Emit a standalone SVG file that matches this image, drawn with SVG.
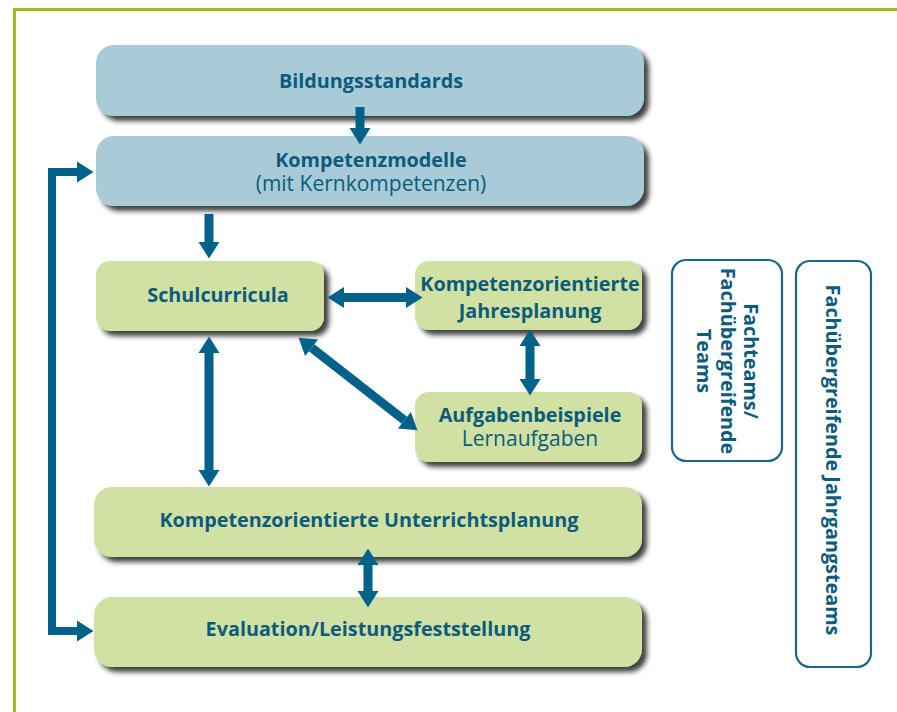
<svg xmlns="http://www.w3.org/2000/svg" width="897" height="712" viewBox="0 0 897 712">
<style>
.t{font-family:"Open Sans","Liberation Sans",sans-serif;fill:#0b5c7c;text-anchor:middle}
.b{font-weight:bold;font-size:19.8px}
.r{font-weight:normal;font-size:21px}
.blue{fill:#a9cbd7;filter:url(#sh)}
.green{fill:#d1e0a3;filter:url(#sh)}
.team{fill:#fff;stroke:#1a6788;stroke-width:2.2}
.c{fill:none;stroke:#00618a;stroke-width:9}
.c2{fill:none;stroke:#00618a;stroke-width:8}
</style>
<defs>
<filter id="sh" x="-10%" y="-20%" width="130%" height="160%">
<feDropShadow dx="5" dy="5" stdDeviation="2.5" flood-color="#222" flood-opacity="0.85"/>
</filter>
<marker id="ah" markerUnits="userSpaceOnUse" markerWidth="20" markerHeight="24" viewBox="0 -12 17 24" refX="0" refY="0" orient="auto-start-reverse">
<path d="M0,-10.5 L16.5,0 L0,10.5 z" fill="#00618a"/>
</marker>
</defs>
<rect width="897" height="712" fill="#fff"/>
<path d="M14.5,712 V9.5 H897" fill="none" stroke="#9cbf1e" stroke-width="3"/>

<g id="n-bildungsstandards">
<rect class="blue" x="96" y="45" width="548" height="71" rx="18"/>
<text class="t b" x="371" y="88">Bildungsstandards</text>
</g>
<g id="n-kompetenzmodelle">
<rect class="blue" x="96" y="136" width="548" height="70" rx="18"/>
<text class="t b" x="371" y="167">Kompetenzmodelle</text>
<text class="t r" x="371" y="191">(mit Kernkompetenzen)</text>
</g>
<g id="n-schulcurricula">
<rect class="green" x="96" y="261" width="228" height="70" rx="14"/>
<text class="t b" x="218" y="302">Schulcurricula</text>
</g>
<g id="n-jahresplanung">
<rect class="green" x="415" y="261" width="227" height="69" rx="14"/>
<text class="t b" x="530" y="291">Kompetenzorientierte</text>
<text class="t b" x="530" y="318">Jahresplanung</text>
</g>
<g id="n-aufgaben">
<rect class="green" x="415" y="392" width="227" height="70" rx="14"/>
<text class="t b" x="530" y="422">Aufgabenbeispiele</text>
<text class="t r" x="530" y="446">Lernaufgaben</text>
</g>
<g id="n-unterrichtsplanung">
<rect class="green" x="94" y="487" width="548" height="70" rx="18"/>
<text class="t b" x="369" y="527">Kompetenzorientierte Unterrichtsplanung</text>
</g>
<g id="n-evaluation">
<rect class="green" x="94" y="597" width="548" height="70" rx="18"/>
<text class="t b" x="368" y="636">Evaluation/Leistungsfeststellung</text>
</g>
<g id="n-fachteams">
<rect class="team" x="672" y="260" width="110" height="201" rx="14"/>
<g transform="translate(0,361) rotate(90)">
<text class="t b" x="0" y="-744">Fachteams/</text>
<text class="t b" x="0" y="-721">Fachübergreifende</text>
<text class="t b" x="0" y="-697">Teams</text>
</g>
</g>
<g id="n-jahrgangsteams">
<rect class="team" x="796" y="261" width="75" height="406" rx="14"/>
<g transform="translate(0,460) rotate(90)">
<text class="t b" x="0" y="-826">Fachübergreifende Jahrgangsteams</text>
</g>
</g>

<g id="connectors">
<path class="c" d="M360,107 V128" marker-end="url(#ah)"/>
<path class="c" d="M209,214 V242" marker-end="url(#ah)"/>
<path class="c" d="M344,297.5 H406" marker-start="url(#ah)" marker-end="url(#ah)"/>
<path class="c" d="M530,346 V379" marker-start="url(#ah)" marker-end="url(#ah)"/>
<path class="c" d="M311.6,347.8 L404.4,420.2" marker-start="url(#ah)" marker-end="url(#ah)"/>
<path class="c" d="M209,353 V470" marker-start="url(#ah)" marker-end="url(#ah)"/>
<path class="c" d="M368,565 V591" marker-start="url(#ah)" marker-end="url(#ah)"/>
<path class="c2" d="M77,172 H52 V631 H77" marker-start="url(#ah)" marker-end="url(#ah)"/>
</g>
</svg>
